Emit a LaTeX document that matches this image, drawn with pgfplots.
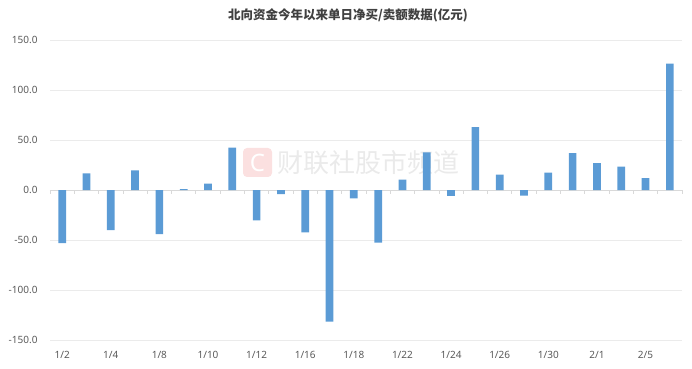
\documentclass[border=0pt]{standalone}
\usepackage{fontspec}
\setmainfont{Noto Sans}
\newfontfamily\cjk{Noto Sans CJK SC}
\usepackage{pgfplots}
\pgfplotsset{compat=1.18}
\definecolor{barblue}{HTML}{5B9BD5}
\definecolor{gridc}{HTML}{EBEBEB}
\definecolor{zeroc}{HTML}{D9D9D9}
\definecolor{tickc}{HTML}{595959}
\definecolor{titlec}{HTML}{404040}
\definecolor{wmtext}{HTML}{EAEAEA}
\definecolor{wmlogo}{HTML}{FBE0E0}
\pgfplotstableread{
x y
0 -53
1 16.7
2 -40
3 19.7
4 -44
5 1
6 6.3
7 42.3
8 -30.3
9 -4
10 -42.3
11 -131.7
12 -8.3
13 -52.7
14 10.3
15 37.7
16 -5.8
17 63
18 15.3
19 -5.7
20 17.3
21 37
22 27
23 23.3
24 12
25 126.3
}\flows
\begin{document}
\begin{tikzpicture}
\path[use as bounding box] (-50bp,-29bp) rectangle (642bp,340bp);
% watermark
\node[fill=wmlogo, rounded corners=4bp, minimum width=29bp, minimum height=29bp, inner sep=0pt, text=white, font=\fontsize{24bp}{24bp}\selectfont\bfseries] at (207.5bp,177.5bp) {C};
\node[anchor=west, inner sep=0pt, text=wmtext, font=\cjk\fontsize{26bp}{26bp}\selectfont] at (227bp,177.5bp) {财联社股市频道};
\begin{axis}[
  at={(0,0)}, anchor=south west,
  scale only axis, width=632bp, height=300bp,
  xmin=-0.5, xmax=25.5, ymin=-150, ymax=150,
  ytick={-150,-100,...,150},
  xtick={0,2,...,24},
  xticklabels={1/2,1/4,1/8,1/10,1/12,1/16,1/18,1/22,1/24,1/26,1/30,2/1,2/5},
  ymajorgrids, grid style={gridc, line width=0.8bp},
  axis line style={draw=none},
  major tick length=0pt,
  tick label style={font=\fontsize{10bp}{12bp}\selectfont, text=tickc},
  yticklabel style={xshift=-9bp},
  xticklabel style={yshift=-8bp},
  /pgf/number format/fixed,
  /pgf/number format/fixed zerofill,
  /pgf/number format/precision=1,
  /pgf/number format/assume math mode=true,
  clip=false,
]
\draw[zeroc, line width=0.8bp] (axis cs:-0.5,0) -- (axis cs:25.5,0);
\pgfplotsinvokeforeach{-0.5,0.5,...,25.5}{
  \draw[zeroc, line width=0.8bp] (axis cs:#1,0) -- (axis cs:#1,-4);
}
\addplot[ybar, bar width=7.7bp, fill=barblue, draw=none] table[x=x, y=y] {\flows};
\end{axis}
\node[font=\cjk\bfseries\fontsize{12.5bp}{14bp}\selectfont, text=titlec] at (298bp,325bp) {北向资金今年以来单日净买/卖额数据(亿元)};
\end{tikzpicture}
\end{document}
